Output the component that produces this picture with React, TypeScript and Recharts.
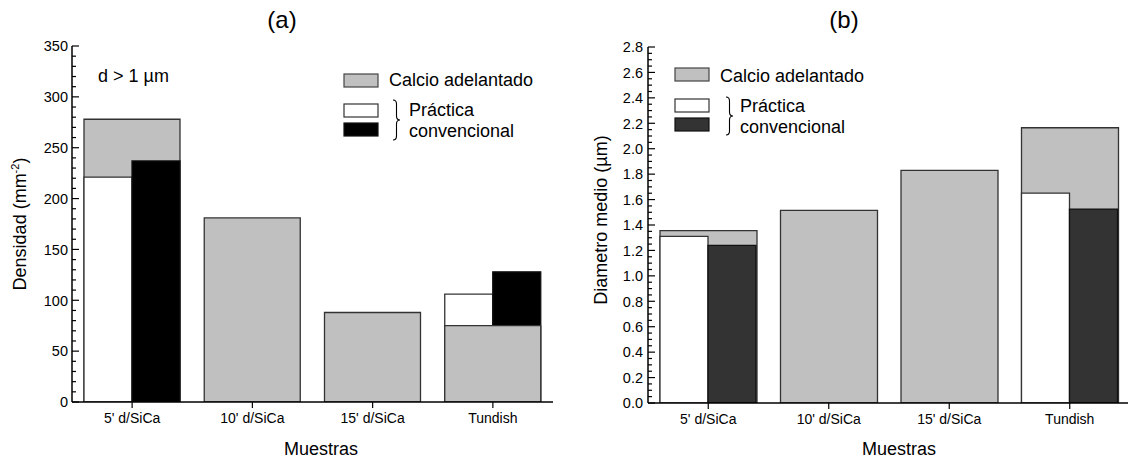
import React from 'react';
import { BarChart, Bar, XAxis, YAxis } from 'recharts';

const FONT = '"Liberation Sans", Arial, Helvetica, sans-serif';

const categories = ["5' d/SiCa", "10' d/SiCa", "15' d/SiCa", 'Tundish'];

// (a) densidad de inclusiones, d > 1 µm (mm-2)
const densCalcio = [278, 181, 88, 75];
const densBlanco = [221, null, null, 106];
const densNegro = [237, null, null, 128];

// (b) diametro medio (µm)
const diamCalcio = [1.355, 1.515, 1.83, 2.165];
const diamBlanco = [1.31, null, null, 1.65];
const diamNegro = [1.24, null, null, 1.525];

const densMajor = [0, 50, 100, 150, 200, 250, 300, 350];
const diamMajor = [0, 0.2, 0.4, 0.6, 0.8, 1.0, 1.2, 1.4, 1.6, 1.8, 2.0, 2.2, 2.4, 2.6, 2.8];

function withMinor(major: number[], sub: number) {
  const out: number[] = [];
  major.forEach((m, i) => {
    out.push(m);
    if (i < major.length - 1) {
      for (let k = 1; k < sub; k++) out.push(+(m + ((major[i + 1] - m) * k) / sub).toFixed(4));
    }
  });
  return out;
}

// the grey bar goes behind the conventional pair when it is taller, in front otherwise
function buildRows(calcio: number[], blanco: (number | null)[], negro: (number | null)[]) {
  return categories.map((cat, i) => {
    const conv = Math.max(blanco[i] ?? 0, negro[i] ?? 0);
    const front = calcio[i] < conv;
    return {
      cat,
      calcioBack: front ? null : calcio[i],
      calcioFront: front ? calcio[i] : null,
      blanco: blanco[i],
      negro: negro[i],
    };
  });
}

const makeYTick = (majors: number[], fmt: (v: number) => string, gap: number) => (props: any) => {
  const { x, y, payload } = props;
  const v = payload.value;
  const major = majors.some((m) => Math.abs(m - v) < 1e-6);
  return (
    <g>
      <line x1={x} x2={x + (major ? 7 : 4)} y1={y} y2={y} stroke="#000" strokeWidth={1.2} />
      {major && (
        <text x={x - gap} y={y} dy="0.36em" textAnchor="end" fontSize={14.5} fontFamily={FONT} fill="#000">
          {fmt(v)}
        </text>
      )}
    </g>
  );
};

interface PanelProps {
  rows: any[];
  left: number;
  width: number;
  margin: { top: number; right: number; bottom: number; left: number };
  domain: [number, number];
  majors: number[];
  sub: number;
  fmt: (v: number) => string;
  gap: number;
  dark: string;
  edges: boolean;
}

function Panel({ rows, left, width, margin, domain, majors, sub, fmt, gap, dark, edges }: PanelProps) {
  const axisStyle = { stroke: '#000', strokeWidth: 1.5 };
  return (
    <div style={{ position: 'absolute', left, top: 0 }}>
      <BarChart width={width} height={461} data={rows} margin={margin} barCategoryGap={12} barGap={0}>
        <Bar xAxisId="full" yAxisId="v" dataKey="calcioBack" fill="#c0c0c0" stroke="#333" strokeWidth={1.3} isAnimationActive={false} />
        <Bar xAxisId="half" yAxisId="v" dataKey="blanco" fill="#fff" stroke="#333" strokeWidth={1.3} isAnimationActive={false} />
        <Bar xAxisId="half" yAxisId="v" dataKey="negro" fill={dark} stroke="#111" strokeWidth={1.3} isAnimationActive={false} />
        <Bar xAxisId="front" yAxisId="v" dataKey="calcioFront" fill="#c0c0c0" stroke="#333" strokeWidth={1.3} isAnimationActive={false} />

        <XAxis
          xAxisId="full"
          dataKey="cat"
          interval={0}
          height={30}
          tickSize={6}
          tickMargin={5}
          tick={{ fontSize: 14, fill: '#000', fontFamily: FONT }}
          axisLine={axisStyle}
          tickLine={{ stroke: '#000', strokeWidth: 1.2 }}
        />
        <XAxis xAxisId="half" dataKey="cat" hide height={0} />
        <XAxis xAxisId="front" dataKey="cat" hide height={0} />
        <XAxis
          xAxisId="edges"
          type="number"
          domain={[0, 4]}
          allowDataOverflow
          mirror
          height={0}
          ticks={edges ? [1, 2, 3] : []}
          tickSize={-4}
          tick={() => null}
          axisLine={false}
          tickLine={{ stroke: '#000', strokeWidth: 1.2 }}
        />
        <XAxis
          xAxisId="top"
          orientation="top"
          type="number"
          domain={[0, 4]}
          allowDataOverflow
          mirror
          height={0}
          ticks={edges ? [0.5, 1, 1.5, 2, 2.5, 3, 3.5] : []}
          tickSize={3}
          tick={() => null}
          axisLine={axisStyle}
          tickLine={{ stroke: '#000', strokeWidth: 1 }}
        />
        <YAxis
          yAxisId="v"
          width={40}
          domain={domain}
          allowDataOverflow
          ticks={withMinor(majors, sub)}
          interval={0}
          tickSize={0}
          tickMargin={0}
          tickLine={false}
          axisLine={axisStyle}
          tick={makeYTick(majors, fmt, gap)}
        />
        <YAxis
          yAxisId="r"
          orientation="right"
          mirror
          width={0}
          domain={domain}
          allowDataOverflow
          tick={false}
          tickLine={false}
          axisLine={axisStyle}
        />
      </BarChart>
    </div>
  );
}

function Brace({ x, y, h }: { x: number; y: number; h: number }) {
  const m = y + h / 2;
  const c = x + 3.5;
  const d = `M ${x} ${y} Q ${c} ${y} ${c} ${y + 4} L ${c} ${m - 4} Q ${c} ${m} ${x + 7} ${m} Q ${c} ${m} ${c} ${m + 4} L ${c} ${y + h - 4} Q ${c} ${y + h} ${x} ${y + h}`;
  return <path d={d} fill="none" stroke="#000" strokeWidth={1.1} />;
}

interface LegendProps {
  sx: number;
  gy: number;
  wy: number;
  by: number;
  tx: number;
  px: number;
  bl: [number, number, number];
  brace: [number, number, number];
  dark: string;
}

function LegendBlock({ sx, gy, wy, by, tx, px, bl, brace, dark }: LegendProps) {
  const t = { fontSize: 18, fontFamily: FONT, fill: '#000' };
  return (
    <g>
      <rect x={sx} y={gy} width={34} height={13} fill="#c0c0c0" stroke="#444" strokeWidth={1.2} />
      <rect x={sx} y={wy} width={34} height={13} fill="#fff" stroke="#333" strokeWidth={1.2} />
      <rect x={sx} y={by} width={34} height={13} fill={dark} stroke="#111" strokeWidth={1.2} />
      <text x={tx} y={bl[0]} {...t}>Calcio adelantado</text>
      <Brace x={brace[0]} y={brace[1]} h={brace[2]} />
      <text x={px} y={bl[1]} {...t}>Práctica</text>
      <text x={px} y={bl[2]} {...t}>convencional</text>
    </g>
  );
}

export default function App() {
  const rowsA = buildRows(densCalcio, densBlanco, densNegro);
  const rowsB = buildRows(diamCalcio, diamBlanco, diamNegro);
  const t18 = { fontSize: 18, fontFamily: FONT, fill: '#000' };
  return (
    <div style={{ position: 'absolute', left: 0, top: 0, width: 1128, height: 461, overflow: 'hidden', background: '#fff' }}>
      <Panel
        rows={rowsA}
        left={0}
        width={560}
        margin={{ top: 46, right: 7, left: 32, bottom: 29 }}
        domain={[0, 350]}
        majors={densMajor}
        sub={5}
        fmt={(v) => String(v)}
        gap={4}
        dark="#000"
        edges={false}
      />
      <Panel
        rows={rowsB}
        left={560}
        width={580}
        margin={{ top: 47, right: 10, left: 48, bottom: 28 }}
        domain={[0, 2.8]}
        majors={diamMajor}
        sub={4}
        fmt={(v) => v.toFixed(1)}
        gap={5}
        dark="#333"
        edges={true}
      />
      <svg width={1128} height={461} style={{ position: 'absolute', left: 0, top: 0, pointerEvents: 'none' }}>
        <text x={282} y={28} textAnchor="middle" fontSize={24} fontFamily={FONT} fill="#000">(a)</text>
        <text x={844} y={28} textAnchor="middle" fontSize={24} fontFamily={FONT} fill="#000">(b)</text>

        <text x={20} y={230} transform="rotate(-90 20 224)" textAnchor="middle" {...t18}>
          Densidad (mm<tspan fontSize={11} dy={-7}>-2</tspan><tspan dy={7}>)</tspan>
        </text>
        <text x={601} y={226} transform="rotate(-90 601 220)" textAnchor="middle" {...t18}>
          Diametro medio (µm)
        </text>

        <text x={321} y={455} textAnchor="middle" {...t18}>Muestras</text>
        <text x={899} y={455} textAnchor="middle" {...t18}>Muestras</text>

        <text x={98} y={82} {...t18}>d &gt; 1 µm</text>

        <LegendBlock sx={344} gy={74} wy={104} by={123} tx={389} px={409} bl={[86, 116, 137]} brace={[393, 100, 40]} dark="#000" />
        <LegendBlock sx={675} gy={68} wy={99} by={118} tx={720} px={740} bl={[82, 112, 133]} brace={[726, 97, 38]} dark="#333" />
      </svg>
    </div>
  );
}
